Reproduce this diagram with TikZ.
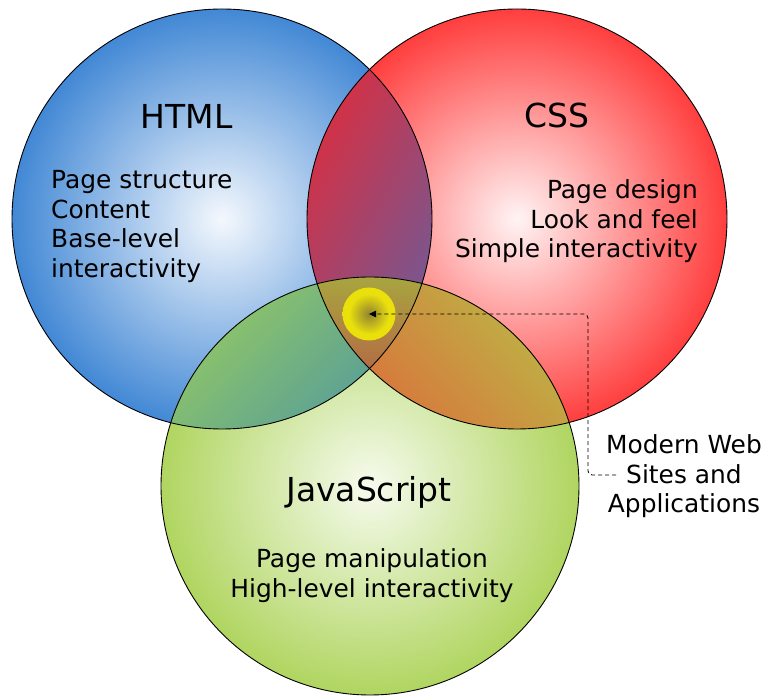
\documentclass[tikz,border=0pt]{standalone}
\usepackage{fontspec}
\setmainfont{DejaVu Sans}
\usetikzlibrary{arrows.meta}

% disc colours: pale centre, saturated rim
\definecolor{bluein}{RGB}{244,248,253}
\definecolor{blueout}{RGB}{66,136,213}
\definecolor{redin}{RGB}{255,244,244}
\definecolor{redout}{RGB}{255,62,62}
\definecolor{greenin}{RGB}{246,251,238}
\definecolor{greenout}{RGB}{176,213,96}
% overlap colours
\definecolor{brA}{RGB}{218,46,64}
\definecolor{brB}{RGB}{112,90,150}
\definecolor{rgA}{RGB}{186,186,70}
\definecolor{rgB}{RGB}{220,108,58}
\definecolor{bgA}{RGB}{150,202,98}
\definecolor{bgB}{RGB}{78,152,160}
\definecolor{triA}{RGB}{168,164,64}
\definecolor{triB}{RGB}{180,106,68}
% centre marker
\definecolor{hubin}{RGB}{146,132,48}
\definecolor{hubmid}{RGB}{196,184,30}
\definecolor{hubout}{RGB}{234,224,12}

\pgfdeclareradialshading{hubglow}{\pgfpoint{0bp}{0bp}}{%
  color(0bp)=(hubin); color(11bp)=(hubmid); color(19bp)=(hubout);
  color(25bp)=(hubout); color(50bp)=(hubout)}

\tikzset{
  rim/.style={draw=black, line width=0.9pt},
  title/.style={font=\fontsize{33}{40}\selectfont, inner sep=0pt},
  body/.style={font=\fontsize{24.9}{29.5}\selectfont, inner sep=0pt},
  link/.style={draw=black, line width=0.85pt, dash pattern=on 4pt off 3pt,
    rounded corners=4pt, -{Triangle[length=7pt,width=6.5pt]}},
}

\begin{document}
\begin{tikzpicture}[x=1pt,y=1pt]
\useasboundingbox (0,0) rectangle (766,696);

\coordinate (B) at (222,477);
\coordinate (R) at (517,477);
\coordinate (G) at (370,210);

% the three discs
\shade[inner color=bluein, outer color=blueout] (B) circle (210);
\shade[inner color=redin, outer color=redout] (R) circle (210);
\shade[inner color=greenin, outer color=greenout] (G) circle (209);

% HTML and CSS
\begin{scope}
  \clip (B) circle (210);
  \clip (R) circle (210);
  \shade[top color=brA, bottom color=brB, shading angle=61] (300,330) rectangle (440,630);
\end{scope}

% CSS and JavaScript
\begin{scope}
  \clip (R) circle (210);
  \clip (G) circle (209);
  \shade[top color=rgA, bottom color=rgB, shading angle=-47] (310,260) rectangle (585,420);
\end{scope}

% HTML and JavaScript
\begin{scope}
  \clip (B) circle (210);
  \clip (G) circle (209);
  \shade[top color=bgA, bottom color=bgB, shading angle=45] (155,260) rectangle (440,420);
\end{scope}

% all three
\begin{scope}
  \clip (B) circle (210);
  \clip (R) circle (210);
  \clip (G) circle (209);
  \shade[top color=triA, bottom color=triB] (310,322) rectangle (435,418);
\end{scope}

% outlines
\draw[rim] (B) circle (210);
\draw[rim] (R) circle (210);
\draw[rim] (G) circle (209);

% centre marker
\node[circle, minimum size=53pt, inner sep=0pt, shade, shading=hubglow] (hub) at (369,382) {};

% texts (multi-line nodes: base anchor sits on the last line)
\node[title, anchor=base] (htmlT) at (186.5,567) {HTML};
\node[body, align=left, anchor=base west] (htmlB) at (51,418.5)
  {Page structure\\Content\\Base-level\\interactivity};

\node[title, anchor=base] (cssT) at (557,568) {CSS};
\node[body, align=right, anchor=base east] (cssB) at (698,438)
  {Page design\\Look and feel\\Simple interactivity};

\node[title, anchor=base] (jsT) at (369,194) {JavaScript};
\node[body, align=center, anchor=base] (jsB) at (372,98.5)
  {Page manipulation\\High-level interactivity};

\node[body, align=center, anchor=base] (mw) at (684,183)
  {Modern Web\\Sites and\\Applications};

% pointer from the caption to the centre
\coordinate (mwend) at (616,221);
\coordinate (bend) at (588,382);
\draw[link] (mwend) -| (bend) -- (hub.center);
\end{tikzpicture}
\end{document}
